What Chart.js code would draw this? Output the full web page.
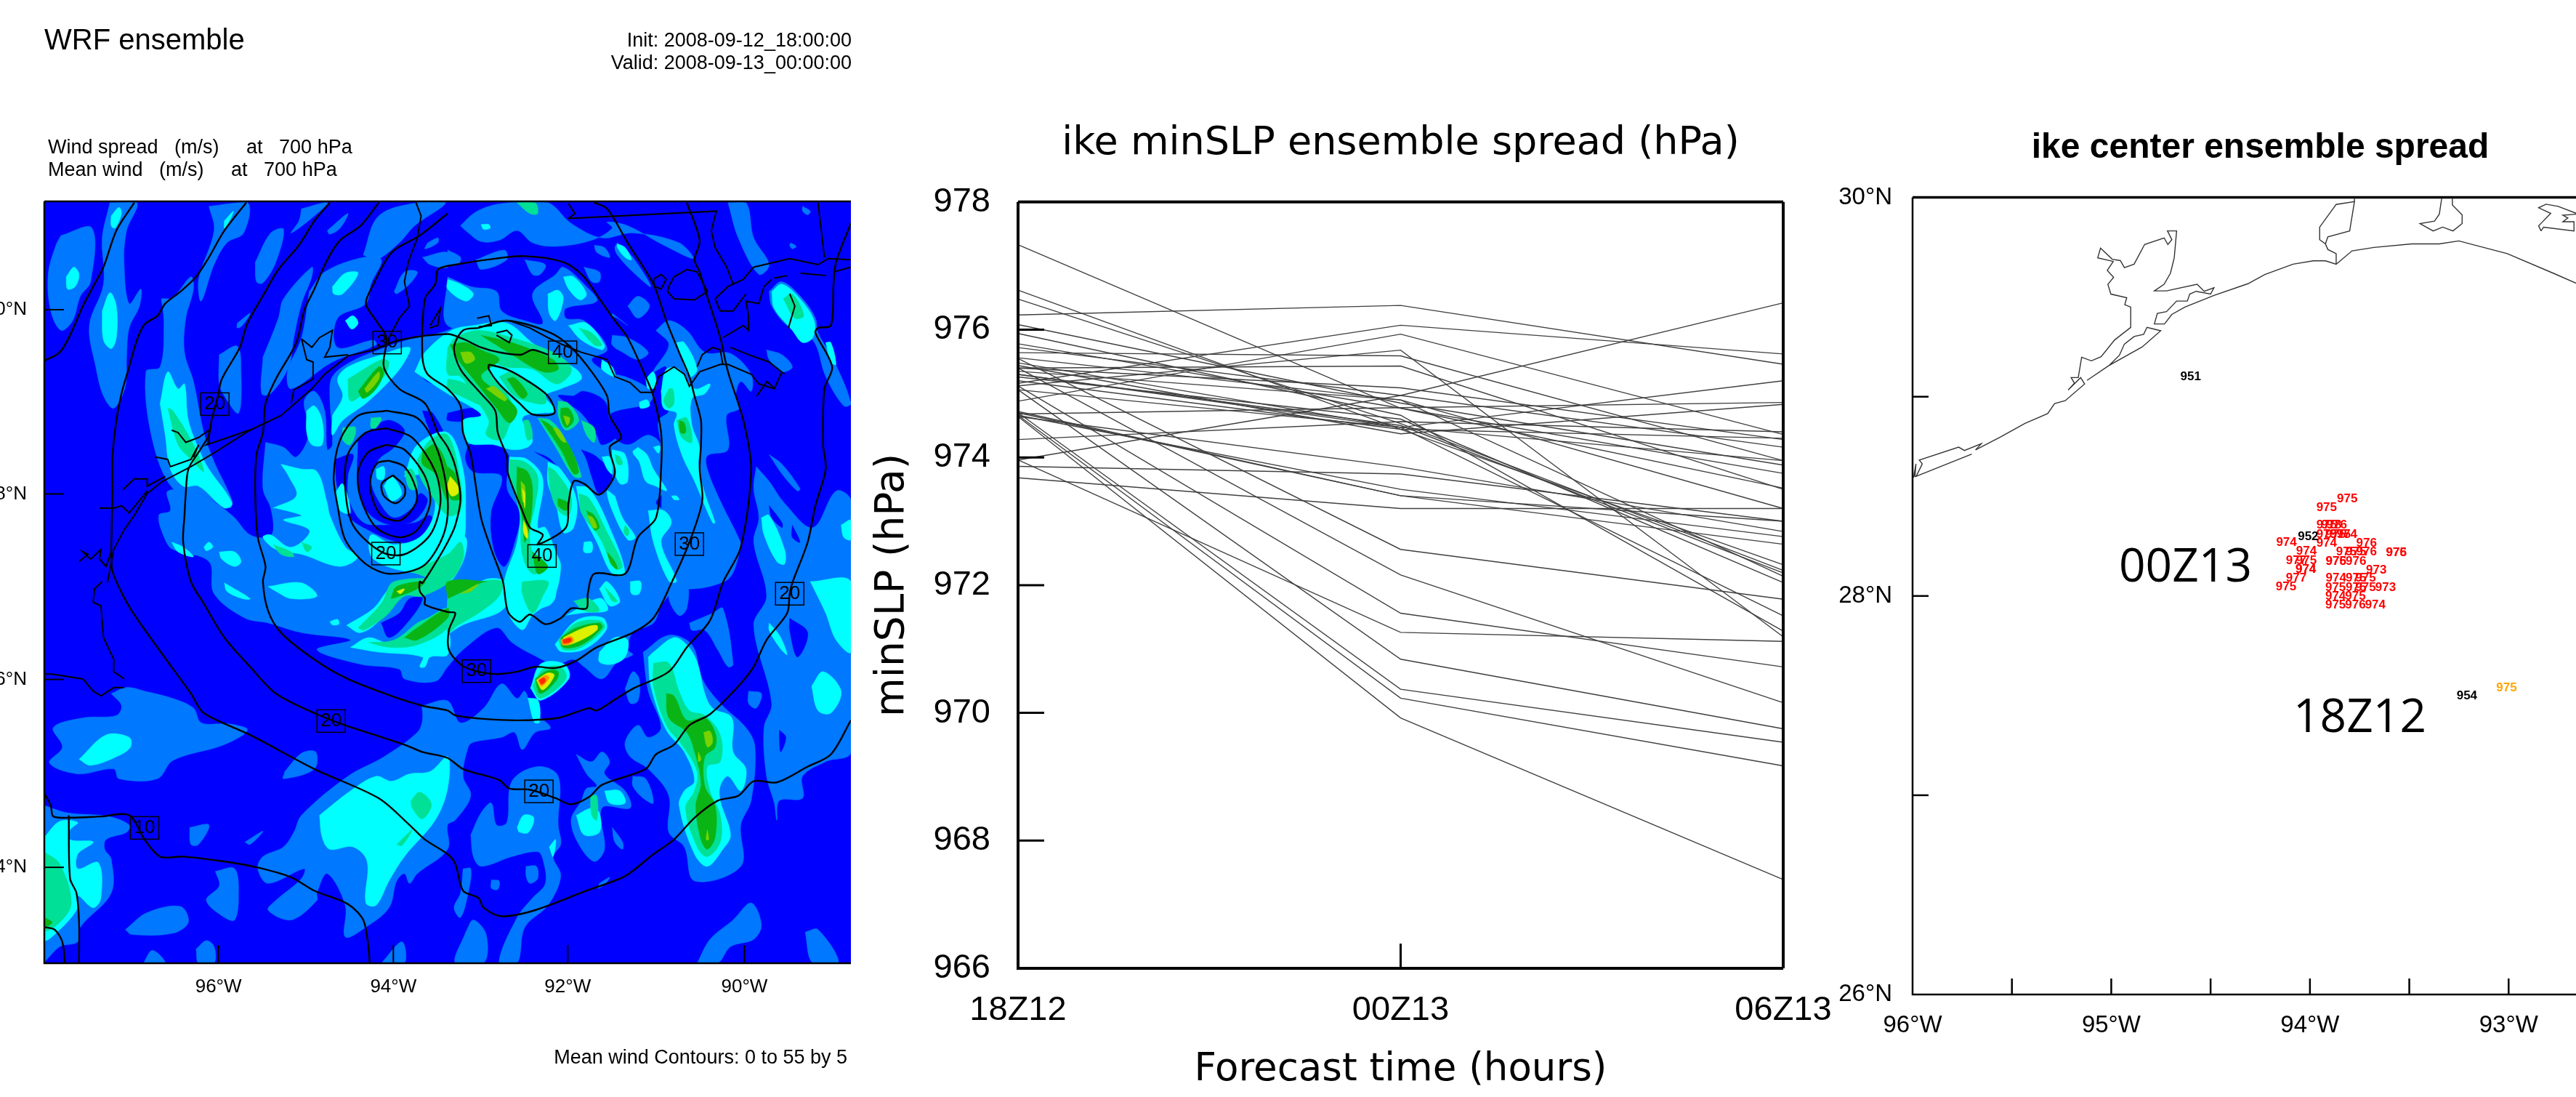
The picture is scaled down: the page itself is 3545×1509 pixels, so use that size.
<!DOCTYPE html>
<html>
<head>
<meta charset="utf-8">
<title>WRF ensemble - ike</title>
<script src="https://cdn.jsdelivr.net/npm/chart.js@4/dist/chart.umd.min.js"></script>
<style>
  html, body { margin: 0; padding: 0; background: #fff; overflow: hidden; width: 3545px; height: 1509px; }
  canvas { position: absolute; top: 0; }
  #mapCanvas { left: 0; }
  #slpCanvas { left: 1180px; }
  #trackCanvas { left: 2525px; }
  .note { position: absolute; font-family: "Liberation Sans", sans-serif; color: #000; white-space: pre; line-height: 1; }
  .big { position: absolute; font-family: "Open Sans", sans-serif; font-size: 64px; color: #000; line-height: 1; }
</style>
</head>
<body>
<canvas id="mapCanvas" width="1185" height="1509"></canvas>
<canvas id="slpCanvas" width="1345" height="1509"></canvas>
<canvas id="trackCanvas" width="1064" height="1509"></canvas>

<div class="note" style="right:2373px;top:42px;font-size:27px;">Init: 2008-09-12_18:00:00</div>
<div class="note" style="right:2373px;top:73px;font-size:27px;">Valid: 2008-09-13_00:00:00</div>
<div class="note" style="left:66px;top:189px;font-size:27px;">Wind spread   (m/s)     at   700 hPa</div>
<div class="note" style="left:66px;top:220px;font-size:27px;">Mean wind   (m/s)     at   700 hPa</div>
<div class="note" style="right:2379px;top:1441px;font-size:27px;">Mean wind Contours: 0 to 55 by 5</div>
<div class="big" style="left:2916px;top:744px;">00Z13</div>
<div class="big" style="left:3156px;top:951px;">18Z12</div>

<script>
'use strict';

// ******* SLP PANEL DATA *******
let slpTimes = ['18Z12', '00Z13', '06Z13'];
let slpTicks = [966, 968, 970, 972, 974, 976, 978];
let slp18Z12 = [977.33, 976.62, 976.48, 976.23, 976.08, 975.94, 975.78, 975.72, 975.64, 975.56, 975.48, 975.44, 975.40, 975.40, 975.35, 975.30, 975.16, 975.12, 975.06, 974.88, 973.96, 974.68, 974.28, 973.86, 973.68, 974.64, 974.66, 974.70, 974.72, 975.55, 975.40, 975.12, 973.96, 975.06, 974.70, 974.66, 974.64, 975.20, 975.30, 975.26];
let slp00Z13 = [974.77, 974.44, 974.53, 976.38, 974.85, 974.66, 974.77, 974.97, 975.59, 974.90, 974.47, 974.37, 975.43, 975.09, 974.90, 974.50, 976.07, 975.68, 974.47, 975.93, 974.97, 974.78, 974.56, 973.74, 973.20, 973.85, 973.50, 973.40, 973.40, 972.56, 972.16, 971.56, 971.26, 970.84, 970.37, 970.23, 969.92, 974.44, 974.47, 974.60];
let slp06Z13 = [973.52, 972.32, 972.23, 975.46, 973.88, 971.28, 973.75, 974.16, 973.95, 973.20, 975.20, 974.83, 973.50, 974.28, 972.14, 972.19, 975.62, 971.19, 971.52, 974.36, 976.42, 974.86, 974.40, 973.00, 973.20, 972.84, 972.76, 972.64, 973.00, 971.78, 970.16, 970.72, 971.12, 969.75, 969.54, 969.17, 967.39, 974.30, 973.95, 972.04];

// ******* TRACK PANEL DATA *******
let lonTicks = [-96, -95.5, -95, -94.5, -94, -93.5, -93, -92.5];
let latTicks = [26, 27, 28, 29, 30];
let memberLon = [-93.812, -93.916, -93.916, -93.892, -93.865, -93.916, -93.871, -93.847, -93.814, -93.916, -94.118, -93.715, -94.018, -93.817, -93.768, -93.715, -93.565, -93.565, -94.069, -94.018, -93.869, -93.869, -93.768, -93.666, -94.021, -94.021, -94.069, -94.120, -93.869, -93.768, -93.720, -93.871, -93.768, -93.720, -93.619, -93.871, -93.771, -93.871, -93.771, -93.671];
let memberLat = [28.488, 28.444, 28.355, 28.355, 28.355, 28.310, 28.310, 28.310, 28.310, 28.266, 28.268, 28.264, 28.223, 28.220, 28.220, 28.220, 28.218, 28.218, 28.178, 28.178, 28.175, 28.175, 28.175, 28.130, 28.134, 28.134, 28.090, 28.046, 28.088, 28.088, 28.088, 28.043, 28.043, 28.043, 28.041, 27.997, 27.997, 27.954, 27.954, 27.954];
let memberSlp = [975, 975, 975, 978, 976, 975, 975, 975, 974, 974, 974, 976, 974, 975, 975, 976, 976, 975, 977, 975, 975, 976, 976, 973, 974, 974, 977, 975, 974, 975, 975, 975, 975, 975, 973, 974, 975, 975, 976, 974];
let bestLon = [-94.60, -94.009, -93.210];
let bestLat = [29.10, 28.298, 27.499];
let bestSlp = [951, 952, 954];
let startLon = [-93.010];
let startLat = [27.538];
let startSlp = [975];

let trackCoast = [
  [-95.988, 28.598, -95.702, 28.712],
  [-95.683, 28.733, -95.556, 28.799, -95.434, 28.866, -95.320, 28.915, -95.285, 28.966, -95.232, 28.980, -95.134, 29.064, -95.154, 29.096, -95.217, 29.034, -95.185, 29.068, -95.202, 29.096, -95.166, 29.096, -95.149, 29.198, -95.100, 29.180, -95.051, 29.201, -94.983, 29.285, -94.902, 29.348, -94.902, 29.450, -94.932, 29.462, -94.922, 29.497, -95.002, 29.515, -95.017, 29.564, -94.988, 29.599, -95.020, 29.634, -94.990, 29.679, -95.068, 29.697, -95.054, 29.746, -94.995, 29.690, -94.954, 29.683, -94.934, 29.648, -94.885, 29.665, -94.832, 29.764, -94.734, 29.797, -94.715, 29.764, -94.695, 29.788, -94.717, 29.832, -94.671, 29.832, -94.683, 29.697, -94.702, 29.620, -94.734, 29.564, -94.783, 29.531, -94.722, 29.531, -94.568, 29.564, -94.532, 29.529, -94.483, 29.547, -94.500, 29.515, -94.573, 29.529, -94.605, 29.515, -94.617, 29.480, -94.671, 29.480, -94.722, 29.427, -94.768, 29.418, -94.783, 29.365, -94.732, 29.365, -94.695, 29.413, -94.629, 29.450, -94.483, 29.508, -94.312, 29.567, -94.227, 29.613, -94.085, 29.665, -93.983, 29.682, -93.922, 29.682, -93.868, 29.665, -93.788, 29.732, -93.678, 29.749, -93.488, 29.767, -93.349, 29.767, -93.251, 29.782, -93.007, 29.718, -92.776, 29.620, -92.50, 29.50],
  [-93.868, 29.665, -93.868, 29.718, -93.910, 29.739, -93.922, 29.767, -93.951, 29.788, -93.951, 29.851, -93.868, 29.965, -93.776, 29.979, -93.800, 29.832, -93.910, 29.802, -93.922, 29.767],
  [-93.776, 29.994, -93.776, 29.979],
  [-95.122, 29.082, -95.012, 29.156, -94.844, 29.250, -94.751, 29.331, -94.820, 29.348, -94.837, 29.313, -94.885, 29.302, -94.934, 29.264, -94.959, 29.208, -95.012, 29.156],
  [-95.983, 28.598, -95.951, 28.663, -95.966, 28.682, -95.768, 28.747, -95.739, 28.730, -95.654, 28.764, -95.683, 28.733],
  [-95.995, 28.594, -95.983, 28.663, -95.988, 28.598],
  [-93.337, 29.994, -93.349, 29.916, -93.373, 29.881, -93.446, 29.869, -93.380, 29.832, -93.332, 29.851, -93.280, 29.832, -93.234, 29.869, -93.234, 29.913, -93.283, 29.962, -93.283, 29.994],
  [-92.837, 29.832, -92.849, 29.858, -92.788, 29.920, -92.849, 29.948, -92.812, 29.966, -92.751, 29.955, -92.659, 29.920],
  [-92.659, 29.916, -92.727, 29.911, -92.702, 29.897, -92.727, 29.878, -92.671, 29.878, -92.671, 29.832, -92.824, 29.851, -92.837, 29.832]
];

// ******* WIND MAP DATA (model grid coordinates, 0-3136 by 0-3130) *******
let gridXTicks = [677, 1357, 2035, 2722];
let gridXLabels = ['96°W', '94°W', '92°W', '90°W'];
let gridYTicks = [445, 1202, 1964, 2736];
let gridYLabels = ['0°N', '8°N', '6°N', '4°N'];

let boxX = [663, 1333, 1328, 2015, 1935, 2508, 1115, 390, 1680, 1923, 2898];
let boxY = [833, 580, 1447, 620, 1457, 1408, 2135, 2574, 1930, 2424, 1612];
let boxValue = [20, 30, 20, 40, 40, 30, 20, 10, 30, 20, 20];

let spread1 = [
  [65,140,185,110,180,330,140,390,110,490,65,530,25,450,15,300,45,180],
  [255,5,360,5,320,120,310,250,330,420,375,360,370,430,330,520,320,640,315,760,270,850,230,800,200,680,175,510,230,340,225,150],
  [640,20,790,5,775,130,710,170,660,260,610,410,600,320,660,120],
  [455,400,500,395,570,310,580,360,550,480,545,620,580,740,620,950,660,1070,730,1230,720,1260,600,1200,500,1180,420,980,395,700,450,680,465,500],
  [680,630,750,595,765,700,755,870,700,800,680,750],
  [750,500,800,460,770,510,750,520],
  [820,250,880,130,930,115,900,250,850,335,825,330],
  [850,640,910,480,930,400,1040,270,1040,310,1000,420,970,560,950,680,880,790,845,790],
  [1000,30,1100,5,1050,60,960,130,990,80],
  [1100,120,1180,50,1150,110,1110,135],
  [1240,220,1300,60,1450,5,1560,5,1440,100,1380,170,1290,240],
  [1030,370,1090,290,1240,230,1310,240,1270,340,1250,420,1140,480,1140,600,1280,570,1290,590,1120,660,960,770,945,700,1000,560],
  [1490,170,1530,150,1530,170,1480,195],
  [1470,230,1568,210,1568,270,1500,260],
  [1360,370,1400,290,1450,290,1420,340,1370,380],
  [860,990,930,1010,980,1050,1030,950,1010,820,1050,780,1090,860,1100,1020,1120,1000,1110,800,1120,720,1190,660,1300,610,1410,570,1568,530,1678,470,1738,490,1828,490,1908,510,1988,510,2068,490,2138,530,2188,610,2128,650,2188,700,2258,720,2338,760,2368,790,2348,830,2228,860,2198,880,2208,960,2268,1000,2348,960,2398,1000,2408,1100,2418,1180,2378,1240,2438,1290,2418,1400,2458,1560,2398,1662,2368,1732,2288,1772,2268,1842,2288,1862,2228,1892,2168,1962,2098,1912,2058,1882,1988,1902,1898,1862,1818,1812,1758,1752,1628,1842,1568,1912,1520,1972,1400,1962,1380,1922,1230,1902,1060,1842,1190,1802,1000,1772,870,1732,780,1712,660,1612,640,1480,500,1430,470,1390,445,1290,490,1270,480,1190,600,1200,730,1290,800,1370,870,1380,890,1350,880,1260,850,1180],
  [1618,100,1668,50,1728,20,1808,5,1958,5,2048,90,2168,150,2288,130,2468,170,2523,235,2408,180,2268,100,2188,85,2208,110,2128,160,1988,185,1898,170,1838,120,1768,160,1698,165,1638,120],
  [1568,200,1618,230,1608,260,1568,260],
  [1678,240,1788,200,1798,240,1698,280],
  [1868,240,1948,260,1928,300,1898,300],
  [2098,270,2158,290,2158,330,2128,330],
  [2138,180,2178,190,2198,230,2148,210],
  [2228,170,2288,230,2358,350,2288,290,2228,220,2218,190],
  [1568,310,1658,350,1758,370,1778,450,1868,490,1938,500,1898,380,1988,300,2018,270,2108,350,2148,410,2028,440,2028,480,2098,490,2178,590,1968,540,1768,500,1568,510],
  [2268,430,2308,390,2353,430,2308,480],
  [2208,460,2268,510,2228,480,2208,470],
  [2208,550,2268,560,2348,620,2308,650,2248,620,2208,590],
  [2378,530,2428,490,2498,530,2568,620,2668,625,2748,710,2748,780,2708,740,2688,800,2703,850,2653,880,2658,1020,2578,1045,2578,1100,2628,1230,2698,1380,2708,1420,2648,1560,2438,1560,2398,1000,2388,900,2428,860,2418,680,2368,700,2428,590],
  [2808,610,2868,630,2908,680,2868,700,2818,650],
  [2658,5,2728,5,2758,150,2818,260,2778,300,2698,150],
  [2818,370,2868,330,2948,400,2998,480,3008,540,3068,650,3136,830,3108,840,3038,720,2988,570,2888,510,2828,430],
  [2948,20,2978,40,2968,55,2948,40],
  [2903,170,2923,185,2908,195,2898,180],
  [2818,1040,2868,1080,2938,1180,2928,1190,2868,1120],
  [2768,1090,2818,1150,2878,1240,2988,1340,3078,1190,3136,1230,3136,2262,3038,2302,2948,2362,2948,2452,2858,2462,2848,2542,2838,2472,2808,2362,2798,2162,2828,2062,2758,1742,2808,1622,2758,1400,2778,1300,2758,1180],
  [2328,1852,2428,1782,2518,1822,2558,1962,2628,2062,2728,2162,2763,2242,2748,2462,2708,2562,2708,2732,2528,2792,2488,2652,2428,2592,2428,2442,2348,2332,2278,2282,2258,2222,2308,2152,2348,2202,2398,2162,2348,2012],
  [2508,1732,2598,1692,2638,1672,2678,1902,2658,1912,2618,1842,2568,1762,2518,1762],
  [2438,1567,2498,1567,2498,1672,2468,1702,2428,1632],
  [2258,2002,2288,1932,2313,1962,2308,2052,2278,2062],
  [2738,2012,2788,2022,2768,2082,2738,2062],
  [1468,2072,1568,2052,1618,2142,1708,2082,1778,1982,1838,2042,1868,2012,1898,2092,1968,2162,1908,2182,1858,2252,1828,2182,1778,2202,1668,2222,1648,2242,1628,2362,1658,2442,1598,2542,1568,2562,1568,2662,1450,2762,1420,2802,1400,2762,1370,2792,1340,2902,1250,2982,1170,3022,1170,2892,1100,2762,1060,2842,1060,2872,960,2952,870,2912,900,2872,1000,2782,1010,2742,870,2802,830,2742,850,2692,930,2652,970,2592,1000,2522,1180,2362,1320,2282,1450,2182,1470,2132],
  [1658,2602,1698,2512,1738,2472,1758,2562,1798,2552,1818,2382,1918,2322,1998,2362,1998,2562,2008,2642,1978,2692,2008,2772,1958,2892,1868,2982,1838,3130,1768,3130,1838,2942,1898,2862,1948,2802,1938,2702,1918,2672,1818,2692,1698,2732,1668,2692],
  [2068,2272,2128,2302,2168,2262,2198,2302,2178,2352,2258,2422,2278,2492,2168,2492,2178,2662,2138,2712,2078,2642,2048,2542,2088,2462,2108,2412,2148,2402,2108,2352],
  [2288,2362,2338,2372,2368,2472,2328,2452,2288,2402],
  [2208,2572,2248,2632,2248,2662,2218,2632],
  [1873,2732,1913,2732,1918,2782,1888,2802,1873,2772],
  [1738,2787,1768,2792,1763,2827,1738,2822],
  [1628,2742,1658,2742,1648,2842,1618,2942,1593,2902,1618,2842],
  [1638,3002,1668,2952,1718,3012,1708,3130,1598,3130],
  [2538,3130,2588,3032,2678,2952,2748,2882,2788,2972,2758,3032,2668,3062,2618,3130],
  [2958,3002,3008,2992,3088,3130,2988,3130],
  [2158,2802,2198,2777,2178,2807,2153,2822],
  [260,2022,320,1997,390,2012,500,2042,580,2082,610,2142,720,2147,790,2172,700,2232,500,2297,440,2372,290,2372,270,2332,130,2352,20,2307,70,2242,35,2162,150,2122,280,2112,300,2072],
  [0,2482,90,2512,250,2527,330,2562,320,2592,240,2622,235,2662,260,2702,260,2842,140,2982,130,3042,60,3062,0,3122],
  [565,2572,640,2562,600,2642,570,2642],
  [780,2632,850,2587,800,2642],
  [665,2752,740,2742,755,2862,740,2952,700,2942,630,2872,680,2812],
  [315,2992,400,2922,530,2897,560,2962,500,3007,340,3012],
  [590,3072,630,3037,660,3062,660,3130,600,3130],
  [385,3130,420,3077,470,3130],
  [935,2342,1000,2267,1055,2262,1050,2332,930,2372],
  [1310,3130,1390,3042,1400,3130]
];

// blue gaps inside the spread areas
let spreadGaps = [
  [1130,1060,1200,1040,1180,1130,1185,1230,1240,1320,1330,1330,1440,1320,1500,1290,1510,1330,1480,1390,1380,1400,1260,1350,1180,1290,1140,1180],
  [1220,980,1330,900,1400,940,1360,1010,1300,1060,1270,1150,1310,1250,1360,1300,1430,1260,1460,1200,1490,1230,1440,1310,1350,1330,1260,1280,1220,1170],
  [1480,680,1568,700,1568,760,1510,750,1470,720],
  [1568,870,1668,850,1698,880,1668,900,1568,900],
  [1648,1000,1748,970,1798,1030,1808,1060,1798,1180,1848,1280,1828,1400,1788,1500,1748,1430,1738,1280,1778,1130,1668,1110,1638,1060],
  [2058,800,2098,780,2178,820,2198,900,2228,960,2168,1000,2148,960,2088,870,1998,800],
  [2088,1020,2148,1050,2208,1130,2158,1200,2128,1130,2108,1060],
  [1908,1030,1968,1060,2038,1150,2008,1100],
  [1470,860,1510,870,1568,1000,1530,1010,1490,920],
  [1310,1732,1380,1692,1420,1632,1470,1632,1410,1732,1340,1792],
  [2818,1250,2868,1320,2868,1340,2828,1300],
  [2908,1330,2938,1400,2908,1380],
  [2858,2172,2883,2202,2863,2262,2858,2212],
  [2898,1712,2968,1772,2928,1872,2898,1762]
];

let spread2 = [
  [260,60,290,25,300,50,275,110,260,100],
  [85,310,115,270,135,300,120,350,90,360],
  [225,450,255,375,280,430,280,560,260,605,230,570],
  [700,80,735,40,720,80,700,110],
  [1120,350,1170,295,1220,295,1160,380,1125,380],
  [1170,490,1200,470,1220,500,1195,525],
  [450,830,480,700,520,770,545,750,560,900,610,1040,640,1100,730,1240,700,1260,600,1170,540,1170,490,1100,470,960],
  [495,1400,540,1420,580,1460,520,1440],
  [620,1420,640,1400,655,1420,630,1435],
  [680,1440,740,1440,765,1480,740,1500,690,1470],
  [700,1567,800,1632,770,1632,710,1602],
  [870,1582,1000,1567,1060,1622,960,1632,900,1602],
  [920,1080,1000,1100,1060,1110,1100,1240,1110,1290,1170,1420,1220,1460,1150,1500,1000,1450,900,1430,850,1380,880,1370,950,1420,1000,1400,1030,1350,930,1310,960,1300,1000,1290,900,1260,890,1260,980,1210,950,1130],
  [1020,860,1050,840,1080,900,1080,1000,1040,1000,1020,950],
  [1130,1200,1160,1160,1190,1280,1150,1270],
  [1120,880,1160,800,1140,730,1180,680,1310,630,1420,600,1400,660,1340,740,1250,830,1160,900,1120,960],
  [1440,700,1480,620,1583,530,1668,510,1798,500,1908,590,2068,690,2088,730,2008,770,1948,800,1988,860,1928,870,1868,880,1858,900,1898,980,1878,1010,1818,1020,1748,1000,1648,990,1628,900,1698,880,1668,850,1568,790],
  [1400,1130,1450,1000,1568,950,1628,1100,1638,1300,1628,1400,1568,1500,1470,1530,1280,1470,1270,1370,1360,1410,1470,1370,1520,1250,1480,1130],
  [1320,1170,1350,1130,1390,1200,1350,1230],
  [1290,1100,1320,1090,1320,1140,1295,1140],
  [1698,95,1728,95,1733,110,1708,115],
  [2018,310,2058,310,2108,380,2083,405,2038,360],
  [2228,175,2258,190,2283,240,2258,230,2228,190],
  [1958,380,1998,365,2018,400,1988,490,1963,460],
  [1568,320,1618,340,1668,380,1638,410,1568,360],
  [2038,510,2108,500,2178,590,2168,610,2088,570],
  [2168,650,2208,680,2218,720,2168,690],
  [2313,825,2343,815,2353,840,2318,850],
  [2338,730,2368,700,2378,760,2348,770],
  [2398,780,2418,690,2468,690,2528,770,2588,750,2568,790,2518,810,2518,920,2548,1010,2543,1080,2568,1200,2608,1320,2598,1320,2548,1200,2528,1150,2478,1040,2448,920,2458,870,2408,850],
  [2458,580,2488,580,2538,690,2508,720],
  [2828,370,2868,340,2938,400,2993,490,2988,560,2948,580,2908,530,2838,440],
  [3038,580,3058,580,3078,670,3058,660],
  [2308,1010,2343,1040,2368,1100,2418,1180,2418,1190,2378,1170,2338,1150,2313,1070,2288,1030],
  [2368,1010,2393,1005,2388,1035],
  [2208,1020,2258,1040,2268,1150,2238,1160,2208,1080],
  [2168,1050,2198,1050,2208,1120,2188,1100],
  [2218,1210,2248,1300,2298,1380,2268,1390,2208,1270,2188,1190],
  [2348,1270,2408,1270,2438,1320,2398,1400,2458,1560,2428,1560,2368,1400],
  [2438,1210,2458,1210,2468,1225,2448,1225],
  [2788,1300,2818,1290,2878,1430,2878,1490,2848,1480,2798,1370],
  [2978,1562,3136,1562,3136,1852,3078,1802,3038,1692],
  [3098,1330,3136,1310,3136,1390,3108,1380],
  [1808,1050,1878,1060,1938,1140,1918,1340,1948,1340,1988,1440,2008,1500,1978,1630,1898,1700,1858,1760,1798,1680,1788,1562,1838,1400,1848,1250,1808,1120],
  [1958,1070,2008,1100,2068,1220,2058,1340,2018,1360,1988,1240,1958,1160],
  [2068,1170,2118,1180,2198,1340,2258,1530,2208,1530,2148,1400,2088,1270],
  [2098,1400,2128,1400,2128,1440,2098,1440],
  [1568,1400,1638,1380,1628,1480,1568,1568],
  [1568,1780,1628,1740,1788,1672,1788,1562,1698,1562,1628,1692,1568,1742],
  [1190,1832,1260,1792,1340,1812,1480,1742,1568,1762,1568,1862,1500,1872,1480,1912,1460,1912,1470,1872,1300,1852],
  [1175,1742,1280,1672,1340,1592,1380,1572,1310,1712,1230,1772],
  [1110,1727,1140,1717,1145,1737,1120,1740],
  [0,2612,60,2547,130,2552,100,2582,100,2622,190,2632,130,2682,130,2742,210,2717,220,2862,190,2902,130,2852,130,2902,60,2992,0,3032],
  [135,2292,240,2192,330,2202,335,2242,280,2282,180,2317],
  [1070,2522,1190,2422,1290,2362,1350,2382,1420,2352,1500,2342,1568,2282,1568,2412,1520,2542,1400,2692,1340,2792,1290,2892,1250,2882,1255,2712,1200,2652,1110,2662,1080,2612],
  [2348,1872,2368,1852,2448,1792,2498,1822,2538,1892,2568,2022,2598,2082,2673,2122,2678,2262,2728,2332,2708,2422,2658,2362,2628,2402,2628,2462,2668,2602,2638,2662,2578,2732,2528,2682,2468,2482,2488,2422,2528,2382,2488,2262,2418,2172,2358,1992],
  [2983,1992,3028,1932,3098,2012,3058,2102,3008,2092],
  [2818,1732,2858,1782,2888,1862,2858,1832,2818,1762],
  [2158,1852,2218,1792,2268,1802,2258,1872,2208,1902,2158,1892],
  [1838,2572,1863,2522,1903,2532,1883,2592,1848,2592],
  [2068,2522,2128,2492,2158,2512,2158,2592,2098,2602],
  [2178,2422,2238,2422,2258,2472,2198,2472],
  [1963,2652,1988,2622,1978,2692],
  [1985,1820,2070,1720,2170,1710,2185,1760,2100,1840,2010,1850],
  [1890,2000,1930,1900,2020,1900,2040,1960,1930,2050],
  [1880,2040,1920,2050,1925,2140,1905,2140],
  [2158,1592,2188,1562,2238,1642,2198,1662],
  [2278,1562,2318,1562,2313,1612,2283,1612],
  [2030,1700,2160,1630,2190,1680,2100,1690],
  [1798,1562,1978,1562,1988,1622,1958,1662,1818,1682]
];

let spread3 = [
  [480,850,500,860,580,1000,620,1110,570,1060,520,1000],
  [1180,730,1310,650,1340,660,1320,720,1240,790,1190,820],
  [1000,1400,1040,1420,1020,1440],
  [890,1410,960,1440,970,1460,920,1450],
  [1160,930,1210,930,1190,1000,1160,980],
  [1270,890,1310,890,1290,930,1270,930],
  [1400,1110,1430,1100,1450,1180,1420,1180],
  [1450,1060,1500,980,1568,960,1618,1150,1618,1270,1568,1290,1500,1200,1460,1130],
  [1420,1520,1568,1450,1618,1400,1628,1470,1568,1560],
  [1568,600,1598,560,1688,530,1818,560,1978,620,2048,680,2038,720,1988,750,1898,690,1788,680,1728,650,1738,720,1788,770,1828,870,1808,920,1778,980,1718,960,1728,900,1668,800,1618,720,1568,710],
  [1768,720,1818,700,1888,750,1948,800,1948,830,1908,830,1828,800],
  [1568,730,1618,740,1698,790,1738,860,1698,840,1618,800,1568,770],
  [1863,900,1883,900,1898,970,1878,980],
  [1918,890,1968,900,2028,980,2088,1130,2058,1130,1988,1010],
  [1998,820,2038,830,2078,900,2028,940,1998,880],
  [2088,900,2138,930,2138,990,2108,960],
  [1808,1060,1868,1070,1918,1130,1908,1250,1888,1350,1898,1440,1948,1500,1898,1530,1858,1450,1848,1280,1808,1120],
  [1958,1090,1988,1110,2048,1210,2038,1290,1998,1270,1968,1190],
  [2078,1200,2118,1220,2188,1360,2248,1500,2218,1510,2158,1380,2088,1280],
  [2218,1040,2238,1050,2248,1080,2228,1080],
  [2258,1330,2273,1350,2268,1375,2253,1360],
  [2873,400,2908,380,2953,470,2918,480],
  [2428,770,2443,770,2448,830,2428,850,2408,820],
  [2458,900,2498,890,2518,990,2478,970],
  [2078,520,2128,540,2168,590,2138,590],
  [1838,5,1908,5,1918,50,1888,50],
  [2368,1897,2428,1897,2468,2012,2508,2092,2568,2112,2628,2192,2628,2302,2578,2322,2588,2422,2628,2522,2628,2632,2578,2692,2538,2652,2493,2492,2528,2422,2538,2342,2478,2232,2418,2152,2368,1992],
  [1858,1562,1958,1562,1938,1622,1898,1692,1858,1612],
  [2058,1642,2118,1632,2158,1682,2098,1682],
  [2178,1582,2228,1642,2208,1642],
  [2123,2442,2148,2442,2148,2542,2128,2522],
  [1568,1612,1698,1562,1778,1562,1768,1622,1688,1692,1608,1742,1568,1772],
  [1998,1802,2068,1732,2158,1722,2178,1752,2088,1832,2018,1842],
  [1898,1992,1938,1922,2008,1912,2028,1962,1928,2042],
  [1425,2462,1460,2427,1505,2477,1470,2537,1430,2492],
  [1370,2642,1430,2582,1390,2647],
  [1260,1812,1360,1802,1450,1732,1490,1712,1568,1672,1568,1752,1450,1822,1340,1832],
  [1220,1752,1310,1652,1360,1562,1568,1562,1470,1622,1400,1622,1330,1702,1290,1732,1240,1762],
  [0,2672,60,2722,105,2882,60,2962,0,2992]
];

let spread4 = [
  [1220,780,1300,680,1320,700,1290,770,1240,810],
  [1470,1030,1520,1000,1568,1100,1568,1230,1520,1120,1470,1080],
  [1568,1090,1598,1120,1618,1220,1578,1220],
  [1350,1622,1370,1582,1480,1562,1450,1592,1350,1632],
  [1400,1792,1450,1752,1568,1672,1568,1712,1450,1802],
  [1578,590,1638,580,1698,610,1768,650,1698,720,1788,800,1838,860,1808,910,1758,850,1668,730,1608,650],
  [1698,550,1818,580,1978,650,1998,690,1938,700,1818,630],
  [1798,730,1828,725,1878,790,1858,810],
  [1928,895,1968,920,2038,1000,2078,1110,2058,1120,2008,1020],
  [2008,850,2038,850,2058,900,2028,930,2008,890],
  [1838,1090,1878,1110,1898,1180,1888,1330,1868,1400,1858,1300,1838,1200],
  [1998,1220,2038,1240,2028,1270,1998,1250],
  [2108,1270,2138,1290,2158,1340,2138,1350],
  [2188,1440,2218,1480,2228,1510,2203,1490],
  [1898,1440,1958,1500,1918,1530],
  [2468,900,2488,910,2493,950,2473,950],
  [2418,2022,2448,2032,2498,2132,2568,2122,2608,2182,2608,2242,2568,2282,2568,2402,2608,2482,2608,2612,2578,2662,2553,2622,2533,2482,2553,2392,2528,2262,2498,2182,2428,2122],
  [1568,1632,1628,1602,1698,1567,1718,1562,1568,1562],
  [2008,1792,2068,1752,2158,1732,2168,1752,2088,1822,2018,1832],
  [1908,1962,1958,1927,1998,1932,1988,1972,1928,2022],
  [0,2942,30,2962,0,2982]
];

let spread5 = [
  [1245,770,1300,700,1300,730,1255,785],
  [1618,620,1658,620,1673,650,1638,665],
  [1718,770,1748,760,1798,810,1788,820],
  [1978,930,1998,935,2028,990,2008,980],
  [2018,880,2043,890,2033,920],
  [1853,1150,1868,1170,1868,1240,1858,1230],
  [2113,1290,2133,1300,2148,1340,2133,1340],
  [2563,2182,2588,2177,2598,2222,2578,2242],
  [2543,2262,2553,2292,2543,2302],
  [2578,2582,2583,2622,2573,2622],
  [1618,1612,1688,1572,1658,1602]
];

let spread6 = [
  [1578,1130,1608,1170,1608,1200,1583,1210,1568,1170],
  [1370,1602,1400,1592,1385,1612],
  [1858,1180,1868,1200,1868,1260],
  [1863,1310,1878,1350,1878,1385,1863,1360],
  [2018,1792,2098,1752,2148,1742,2148,1762,2078,1807,2023,1822],
  [1913,1967,1958,1937,1983,1947,1938,2007]
];

let spread7 = [
  [2008,1802,2048,1787,2058,1807,2018,1824],
  [1918,1967,1948,1947,1963,1957,1933,1992]
];

let spread8 = [
  [2016,1802,2046,1794,2048,1808,2020,1816],
  [1923,1967,1943,1957,1948,1972,1933,1984]
];

let spreadLevels = [spread1, spreadGaps, spread2, spread3, spread4, spread5, spread6, spread7, spread8];
let spreadColors = ['#0078ff', '#0000ff', '#00ffff', '#00e096', '#0ab414', '#78d200', '#dcf000', '#ff9900', '#ff2a00'];

let windContours = [
  [350,5,280,120,230,270,190,350,150,430,100,550,60,620,0,655],
  [785,5,700,120,640,230,590,310,530,370,470,420,440,470,390,505,360,570,330,680,300,790,280,900,265,1050,265,1200,262,1330,262,1500,280,1562,340,1682,460,1862,570,2022,620,2102,800,2192,1050,2332,1300,2452,1420,2562,1480,2622,1568,2682,1598,2722,1628,2832,1688,2862,1708,2902,1778,2937,1908,2912,2108,2832,2258,2772,2368,2682,2448,2622,2528,2532,2618,2462,2698,2442,2758,2382,2848,2387,2968,2322,3058,2272,3136,2132],
  [1110,5,1050,80,990,180,910,280,860,370,790,500,760,600,690,730,675,800,650,900,640,960,600,1030,560,1100,550,1200,545,1290,540,1400,570,1562,620,1652,700,1792,800,1912,900,2022,1060,2107,1170,2152,1400,2232,1470,2262,1568,2287,1628,2332,1768,2377,1808,2412,1888,2417,1988,2452,2048,2477,2118,2447,2168,2397,2338,2332,2378,2272,2448,2232,2508,2152,2588,2107,2698,1992,2758,1912,2808,1802,2888,1692,2898,1612,2908,1568,2968,1400,2998,1250,3038,1100,3028,1000,3033,770,3063,680,2998,540,3008,520,3058,510,3068,350,3078,250,3136,90],
  [1300,5,1230,100,1150,160,1100,240,1050,360,1010,450,980,580,900,730,860,830,850,950,825,1040,820,1200,830,1380,860,1500,850,1562,870,1682,920,1772,1050,1882,1180,1962,1350,2032,1470,2072,1568,2092,1598,2112,1718,2127,1848,2132,1998,2122,2118,2082,2148,2092,2218,2047,2288,2002,2428,1932,2498,1832,2588,1722,2638,1567,2708,1420,2748,1100,2718,900,2658,700,2628,560,2568,360,2548,290,2528,240,2548,160,2498,5],
  [2138,5,2188,30,2268,170,2368,340,2418,490,2468,620,2508,720,2528,800,2553,900,2553,1000,2548,1100,2558,1230,2508,1400,2438,1568,2368,1712,2288,1772,2148,1832,2068,1887,1988,1917,1908,1912,1838,1932,1758,1942,1678,1930,1618,1902,1573,1842,1573,1762,1598,1692,1568,1687,1480,1657,1480,1632,1460,1602,1460,1562,1470,1568,1530,1470,1568,1400,1598,1330,1618,1220,1598,1090,1568,1010,1530,950,1480,830,1380,770,1320,680,1330,560,1290,490,1250,420,1280,340,1350,210,1460,140,1568,50],
  [1568,265,1718,240,1868,225,2018,250,2098,310,2158,400,2218,490,2268,560,2338,720,2368,800,2398,950,2398,1100,2378,1300,2308,1380,2258,1530,2138,1530,2113,1612,2108,1672,2048,1672,2008,1712,1948,1737,1888,1697,1848,1727,1803,1687,1783,1562,1738,1430,1698,1300,1658,1040,1628,950,1618,840,1568,770,1490,710,1470,640,1480,400,1520,340,1530,280,1568,265],
  [1688,520,1628,530,1593,600,1618,690,1698,790,1753,860,1763,950,1798,1050,1803,1120,1858,1270,1888,1340,1938,1370,1918,1410,2028,1340,2038,1240,2058,1150,2098,1160,2158,1205,2218,1120,2198,1010,2243,970,2198,880,2188,800,2128,700,2048,600,1968,540,1798,490,1688,520],
  [1728,670,1798,690,1868,730,1958,800,1983,870,1898,875,1848,830,1768,750,1728,690,1728,670],
  [1355,1125,1400,1170,1400,1210,1365,1240,1320,1210,1312,1160,1355,1125],
  [1340,1065,1400,1090,1445,1180,1445,1240,1385,1310,1310,1290,1270,1200,1270,1130,1295,1075,1340,1065],
  [1330,1000,1400,1020,1480,1130,1500,1240,1450,1350,1380,1380,1290,1340,1230,1220,1220,1110,1260,1030,1330,1000],
  [1330,932,1430,970,1520,1110,1540,1240,1500,1370,1400,1450,1310,1440,1200,1330,1170,1180,1180,1040,1250,950,1330,932],
  [1330,860,1450,890,1520,1000,1560,1150,1568,1290,1540,1400,1470,1500,1340,1530,1250,1490,1170,1390,1140,1250,1125,1130,1150,980,1220,880,1330,860],
  [1280,610,1380,570,1568,545,1628,565,1698,600,1768,620,1853,630,1898,610,1958,630],
  [0,2432,25,2482,35,2527,100,2532,220,2527,330,2522,390,2622,450,2692,540,2692,700,2712,830,2737,960,2777,1050,2832,1180,2887,1240,2952,1260,3062,1265,3130],
  [95,2522,100,2782,125,2842,135,2962,135,3130],
  [0,2982,40,2992,70,3042,80,3130]
];

let mapCoast = [
  [245,1568,270,1430,310,1350,350,1290,400,1200,460,1150,570,1090,650,1040,800,940,920,880,1040,770,1090,710,1180,635,1280,610],
  [1000,565,1040,600,1070,560,1120,530,1110,600,1090,640,1180,630],
  [1000,565,1020,650,1045,660,1045,730,970,775,960,830],
  [495,940,520,950,550,990,600,970,640,940,640,990,630,1000,700,975,810,935],
  [430,1050,480,1060,490,1090,570,1060,600,1000,580,1050],
  [305,1185,350,1140,400,1140,400,1170,470,1130],
  [215,1260,270,1260,300,1250,330,1280,400,1190],
  [135,1480,170,1450,150,1440,180,1470,220,1430,215,1470,240,1500,260,1440],
  [1445,5,1465,60,1450,150,1415,250,1400,330,1420,430,1380,480,1340,560],
  [225,1562,195,1592,190,1647,220,1662,230,1792,270,1882,270,1932,310,1962],
  [0,1942,30,1942,150,1962,190,2012,220,2032,270,1997,310,1997],
  [1498,520,1530,510,1540,440,1500,510],
  [1683,480,1728,470,1738,510,1688,515],
  [1758,540,1798,530,1818,550,1808,580,1758,550],
  [1808,490,1888,520,1958,560,2018,590,2088,620,2188,650,2218,720,2278,745,2318,785,2368,785,2388,720,2448,680,2488,710,2508,760,2548,700,2628,670,2658,670,2748,710,2778,750,2838,770,2868,700],
  [2638,560,2718,510,2738,530,2738,470,2728,410,2778,420,2798,350,2828,320],
  [2638,670,2628,610,2598,600,2558,630,2538,680],
  [2428,350,2448,310,2498,280,2538,290,2578,370,2528,405,2448,400,2423,370,2428,350],
  [2368,320,2398,300,2418,320,2398,360,2373,350,2368,320],
  [2608,400,2658,350,2718,320,2758,270,2898,235,3008,260,3048,235,3136,240],
  [2608,400,2628,450,2678,450,2728,380],
  [2038,70,2613,40,2593,120,2608,190,2653,270,2678,340],
  [2038,10,2063,50,2038,70],
  [3068,290,3136,270],
  [3008,5,3033,230],
  [2898,380,2918,430,2893,520],
  [2668,600,2738,630,2818,660,2878,710],
  [2838,315,2890,305],
  [2940,295,3040,305],
  [2770,800,2810,740,2840,770]
];

// ****** HELPER FUNCTIONS ******
function toPoints(flat) {
  let points = [];
  for (let i = 0; i < flat.length; i += 2) {
    points.push({ x: flat[i], y: flat[i + 1] });
  }
  return points;
}

function zipPoints(xs, ys) {
  return xs.map((x, i) => ({ x: x, y: ys[i] }));
}

function fixedTicks(values) {
  return function (scale) {
    scale.ticks = values.map(v => ({ value: v }));
  };
}

function labelFor(values, labels) {
  return function (value) {
    let i = values.indexOf(value);
    return i < 0 ? '' : labels[i];
  };
}

// the axes keep a fixed size so that the plot boxes land where they should
function fixedHeight(h) {
  return function (s) {
    s.height = h;
    s.paddingLeft = 0;
    s.paddingRight = 0;
  };
}

function fixedWidth(w) {
  return function (s) {
    s.width = w;
    s.paddingTop = 0;
    s.paddingBottom = 0;
  };
}

// ****** CHART PLUGINS ******
// inward tick marks, frame lines and plot background, all placed from the chart's scales
const frameAndTicks = {
  id: 'frameAndTicks',
  beforeDatasetsDraw(chart, args, opts) {
    if (!opts.background) return;
    let a = chart.chartArea;
    chart.ctx.save();
    chart.ctx.fillStyle = opts.background;
    chart.ctx.fillRect(a.left, a.top, a.right - a.left, a.bottom - a.top);
    chart.ctx.restore();
  },
  afterDatasetsDraw(chart, args, opts) {
    let ctx = chart.ctx;
    let a = chart.chartArea;
    ctx.save();
    ctx.strokeStyle = '#000';
    ctx.lineWidth = opts.tickWidth;
    chart.scales.x.ticks.forEach(t => {
      let px = chart.scales.x.getPixelForValue(t.value);
      if (px <= a.left + 1 || px >= a.right - 1) return;
      ctx.beginPath();
      ctx.moveTo(px, a.bottom);
      ctx.lineTo(px, a.bottom - opts.xTick);
      ctx.stroke();
    });
    chart.scales.y.ticks.forEach(t => {
      let py = chart.scales.y.getPixelForValue(t.value);
      if (py <= a.top + 1 || py >= a.bottom - 1) return;
      ctx.beginPath();
      ctx.moveTo(a.left, py);
      ctx.lineTo(a.left + opts.yTick, py);
      ctx.stroke();
    });
    ctx.lineWidth = opts.sideWidth;
    ctx.beginPath();
    ctx.moveTo(a.left, a.top);
    ctx.lineTo(a.left, a.bottom);
    ctx.lineTo(a.right, a.bottom);
    ctx.stroke();
    if (opts.rightSide) {
      ctx.beginPath();
      ctx.moveTo(a.right, a.top);
      ctx.lineTo(a.right, a.bottom);
      ctx.stroke();
    }
    ctx.lineWidth = opts.topWidth;
    ctx.beginPath();
    ctx.moveTo(a.left, a.top);
    ctx.lineTo(a.right, a.top);
    ctx.stroke();
    ctx.restore();
  }
};

// draws each point's value as text; used for the member pressures and the contour boxes
const pointText = {
  id: 'pointText',
  afterDatasetsDraw(chart) {
    let ctx = chart.ctx;
    ctx.save();
    ctx.textAlign = 'center';
    ctx.textBaseline = 'middle';
    chart.data.datasets.forEach((ds, i) => {
      if (!ds.pointLabels) return;
      ctx.font = ds.labelFont;
      ctx.fillStyle = ds.labelColor;
      ctx.strokeStyle = ds.labelColor;
      chart.getDatasetMeta(i).data.forEach((el, j) => {
        ctx.fillText(ds.pointLabels[j], el.x, el.y);
        if (ds.labelBox) {
          ctx.lineWidth = 1.5;
          ctx.strokeRect(el.x - 19.5, el.y - 15.5, 39, 31);
        }
      });
    });
    ctx.restore();
  }
};

const sansFont = 'Liberation Sans';
const dejaFont = 'DejaVu Sans';
Chart.defaults.animation = false;
Chart.defaults.color = '#000';

function quietPlugins(extra) {
  return Object.assign({ legend: { display: false }, tooltip: { enabled: false } }, extra);
}

// ****** WIND SPREAD MAP ******
function renderMap() {
  let datasets = [];
  spreadLevels.forEach((level, i) => {
    level.forEach(flat => {
      let pts = toPoints(flat);
      pts.push(pts[0]);
      datasets.push({
        data: pts,
        showLine: true,
        fill: 'shape',
        backgroundColor: spreadColors[i],
        borderColor: spreadColors[i],
        borderWidth: 0.5,
        tension: 0.35,
        pointRadius: 0
      });
    });
  });
  windContours.forEach(flat => {
    datasets.push({ data: toPoints(flat), showLine: true, borderColor: '#000', borderWidth: 2.4, tension: 0.3, pointRadius: 0 });
  });
  mapCoast.forEach(flat => {
    datasets.push({ data: toPoints(flat), showLine: true, borderColor: '#000', borderWidth: 2, pointRadius: 0 });
  });
  datasets.push({
    data: zipPoints(boxX, boxY),
    pointRadius: 0,
    pointLabels: boxValue,
    labelFont: '26px "' + sansFont + '"',
    labelColor: '#000',
    labelBox: true
  });
  // the library paints the first dataset last
  datasets.reverse();

  new Chart(document.getElementById('mapCanvas'), {
    type: 'scatter',
    data: { datasets: datasets },
    plugins: [frameAndTicks, pointText],
    options: {
      responsive: false,
      layout: { padding: { left: 0, top: 33, right: 14, bottom: 0 } },
      plugins: quietPlugins({
        title: {
          display: true,
          fullSize: false,
          text: 'WRF ensemble',
          align: 'start',
          color: '#000',
          font: { family: sansFont, size: 40, weight: 'normal' },
          padding: { top: 0, bottom: 196 }
        },
        frameAndTicks: { background: '#0000ff', xTick: 25, yTick: 27, tickWidth: 2, sideWidth: 2.5, topWidth: 2.5, rightSide: false }
      }),
      scales: {
        x: {
          type: 'linear', min: 0, max: 3136,
          afterBuildTicks: fixedTicks(gridXTicks),
          afterFit: fixedHeight(184),
          grid: { display: false }, border: { display: false },
          ticks: { autoSkip: false, maxRotation: 0, padding: 9, font: { family: sansFont, size: 26 }, callback: labelFor(gridXTicks, gridXLabels) }
        },
        y: {
          type: 'linear', min: 0, max: 3130, reverse: true,
          afterBuildTicks: fixedTicks(gridYTicks),
          afterFit: fixedWidth(61),
          grid: { display: false }, border: { display: false },
          ticks: { autoSkip: false, padding: 16, font: { family: sansFont, size: 26 }, callback: labelFor(gridYTicks, gridYLabels) }
        }
      }
    }
  });
}

// ****** MINSLP SPAGHETTI ******
function renderSlp() {
  let datasets = slp18Z12.map((v, i) => ({
    data: [v, slp00Z13[i], slp06Z13[i]],
    borderColor: '#404040',
    borderWidth: 1.4,
    pointRadius: 0,
    tension: 0
  }));

  new Chart(document.getElementById('slpCanvas'), {
    type: 'line',
    data: { labels: slpTimes, datasets: datasets },
    plugins: [frameAndTicks],
    options: {
      responsive: false,
      layout: { padding: { left: 0, top: 166, right: 71, bottom: 0 } },
      plugins: quietPlugins({
        title: {
          display: true,
          fullSize: false,
          text: 'ike minSLP ensemble spread (hPa)',
          color: '#000',
          font: { family: dejaFont, size: 54, weight: 'normal' },
          padding: { top: 0, bottom: 47 }
        },
        frameAndTicks: { xTick: 34, yTick: 36, tickWidth: 3, sideWidth: 4, topWidth: 4, rightSide: true }
      }),
      scales: {
        x: {
          type: 'category', offset: false,
          afterFit: fixedHeight(177),
          grid: { display: false }, border: { display: false },
          title: { display: true, text: 'Forecast time (hours)', color: '#000', font: { family: dejaFont, size: 53 }, padding: { top: 0, bottom: 5 } },
          ticks: { autoSkip: false, maxRotation: 0, padding: 22, font: { family: sansFont, size: 47 } }
        },
        y: {
          type: 'linear', min: 966, max: 978,
          afterBuildTicks: fixedTicks(slpTicks),
          afterFit: fixedWidth(221),
          grid: { display: false }, border: { display: false },
          title: { display: true, text: 'minSLP (hPa)', color: '#000', font: { family: dejaFont, size: 55 }, padding: { top: 16, bottom: 0 } },
          ticks: { autoSkip: false, padding: 30, font: { family: sansFont, size: 47 } }
        }
      }
    }
  });
}

// ****** CENTER POSITIONS MAP ******
function renderTrack() {
  let datasets = trackCoast.map(flat => ({
    data: toPoints(flat), showLine: true, borderColor: '#333', borderWidth: 1.4, pointRadius: 0
  }));
  const labelFont = 'bold 17px "' + sansFont + '"';
  datasets.push({ data: zipPoints(memberLon, memberLat), pointRadius: 0, pointLabels: memberSlp, labelFont: labelFont, labelColor: '#ff0000' });
  datasets.push({ data: zipPoints(bestLon, bestLat), pointRadius: 0, pointLabels: bestSlp, labelFont: labelFont, labelColor: '#000' });
  datasets.push({ data: zipPoints(startLon, startLat), pointRadius: 0, pointLabels: startSlp, labelFont: labelFont, labelColor: '#ffa500' });

  new Chart(document.getElementById('trackCanvas'), {
    type: 'scatter',
    data: { datasets: datasets },
    plugins: [frameAndTicks, pointText],
    options: {
      responsive: false,
      layout: { padding: { left: 0, top: 175, right: 0, bottom: 0 } },
      plugins: quietPlugins({
        title: {
          display: true,
          fullSize: false,
          text: 'ike center ensemble spread',
          color: '#000',
          font: { family: sansFont, size: 48, weight: 'bold' },
          padding: { top: 0, bottom: 39 }
        },
        frameAndTicks: { xTick: 22, yTick: 22, tickWidth: 2.5, sideWidth: 2.5, topWidth: 3.5, rightSide: false }
      }),
      scales: {
        x: {
          type: 'linear', min: -96, max: -92.5,
          afterBuildTicks: fixedTicks(lonTicks),
          afterFit: fixedHeight(141),
          grid: { display: false }, border: { display: false },
          ticks: {
            autoSkip: false, maxRotation: 0, padding: 15, font: { family: sansFont, size: 33 },
            callback: value => (Number.isInteger(value) ? Math.abs(value) + '°W' : '')
          }
        },
        y: {
          type: 'linear', min: 26, max: 30,
          afterBuildTicks: fixedTicks(latTicks),
          afterFit: fixedWidth(107),
          grid: { display: false }, border: { display: false },
          ticks: {
            autoSkip: false, padding: 20, font: { family: sansFont, size: 33 },
            callback: value => (value % 2 === 0 ? value + '°N' : '')
          }
        }
      }
    }
  });
}

// ****** EXECUTABLE CODE ********
renderMap();
renderSlp();
renderTrack();
</script>
</body>
</html>
